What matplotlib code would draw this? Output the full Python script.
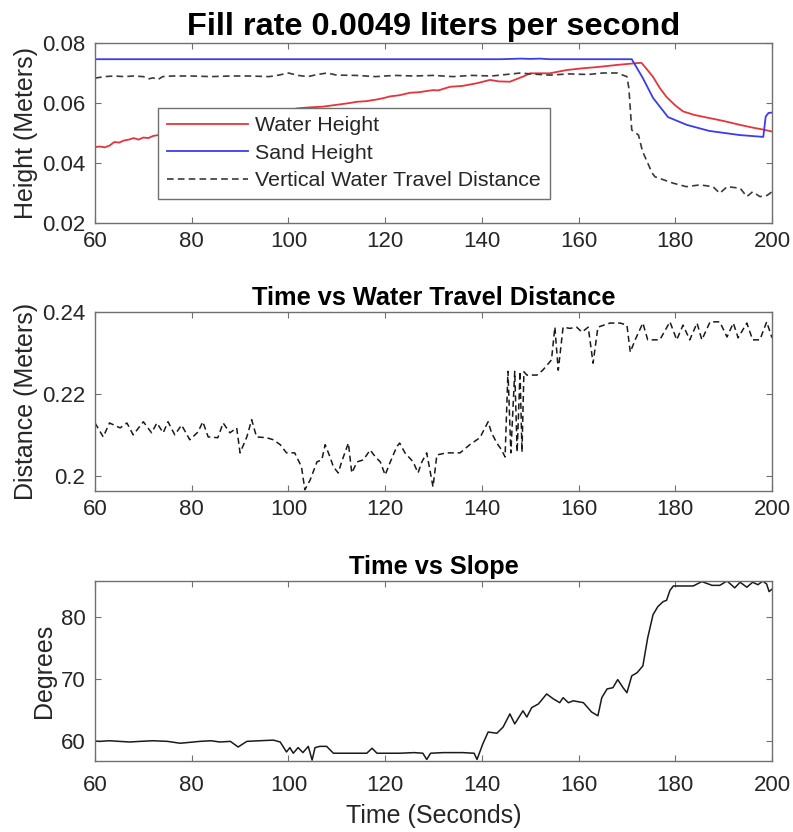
import numpy as np
import matplotlib
matplotlib.use("Agg")
import matplotlib.pyplot as plt
from matplotlib.ticker import FuncFormatter

plt.rcParams['font.family'] = ['Liberation Sans', 'DejaVu Sans']

# ---- top panel: heights (m) ----
t_water = [60, 61, 62, 63, 64, 65, 66, 67, 68, 69, 70, 71, 72, 73, 76, 80, 85, 90, 95, 100,
           101.8, 104, 107.2, 110, 112.7, 114.1, 116, 118, 119.6, 121, 123, 125.1, 127, 129.9,
           131, 133.4, 136, 139, 141.7, 143.5, 145.8, 148.5, 150, 154, 157.6, 161, 164, 168,
           170, 172, 173, 174, 175.4, 176.8, 178.2, 180, 181.6, 184, 187, 190, 193.4, 196, 198, 200]
water_height = [0.0453, 0.0455, 0.0452, 0.0458, 0.0470, 0.0468, 0.0475, 0.0478, 0.0483, 0.0478,
                0.0485, 0.0483, 0.0490, 0.0493, 0.0500, 0.0515, 0.0530, 0.0545, 0.0560, 0.0575,
                0.0582, 0.0585, 0.0588, 0.0594, 0.0600, 0.0604, 0.0606, 0.0611, 0.0616, 0.0622,
                0.0626, 0.0634, 0.0636, 0.0643, 0.0642, 0.0654, 0.0657, 0.0666, 0.0677, 0.0672,
                0.0671, 0.0688, 0.0699, 0.0699, 0.0710, 0.0716, 0.0720, 0.0727, 0.0730, 0.0733,
                0.0734, 0.0715, 0.0687, 0.0650, 0.0620, 0.0592, 0.0572, 0.0560, 0.0550, 0.0540,
                0.0527, 0.0518, 0.0512, 0.0505]

t_sand = [60, 144, 146, 148, 150, 152, 154, 171, 173.3, 175.4, 178.5, 182.4, 187, 193.4,
          198.2, 198.7, 199.3, 200]
sand_height = [0.0746, 0.0746, 0.0747, 0.0748, 0.0747, 0.0748, 0.0746, 0.0746, 0.0683, 0.0617,
               0.0553, 0.0527, 0.0507, 0.0493, 0.0487, 0.0555, 0.0567, 0.0568]

t_vert = [60, 62, 64, 66, 68, 70, 71, 72, 73, 74, 76, 80, 84, 88, 92, 96, 98, 100, 102, 104,
          106, 108, 110, 114, 118, 122, 126, 130, 134, 138, 142, 145, 148, 150, 154, 158, 162,
          165, 168, 170, 170.4, 171, 172.4, 173.2, 175.2, 175.8, 179.5, 182.3, 185.1, 187.8,
          189.2, 190.7, 193.4, 194.8, 196, 197.5, 199, 200]
vert_travel = [0.0683, 0.0688, 0.0690, 0.0688, 0.0690, 0.0688, 0.0680, 0.0684, 0.0678, 0.0688,
               0.0690, 0.0690, 0.0688, 0.0690, 0.0690, 0.0688, 0.0693, 0.0700, 0.0692, 0.0688,
               0.0695, 0.0700, 0.0693, 0.0692, 0.0688, 0.0692, 0.0690, 0.0692, 0.0688, 0.0692,
               0.0690, 0.0695, 0.0700, 0.0697, 0.0693, 0.0697, 0.0695, 0.0700, 0.0700, 0.0688,
               0.0650, 0.0510, 0.0493, 0.0440, 0.0367, 0.0354, 0.0333, 0.0321, 0.0327, 0.0321,
               0.0299, 0.0321, 0.0316, 0.0288, 0.0304, 0.0288, 0.0292, 0.0304]

# ---- middle panel: water travel distance (m) ----
t_dist = [60, 61.7, 63, 65.2, 66.6, 67.9, 70, 71.7, 72.8, 74.1, 75.1, 76.5, 77.9, 79.6, 81.3,
          82.3, 83.4, 85.4, 86.5, 87.9, 89.3, 90, 91.4, 92.4, 93.4, 95.5, 96.9, 98.3, 99.6,
          101.3, 102.7, 103.4, 104.5, 105.9, 106.9, 107.6, 108.6, 109.3, 110.3, 111, 112.4,
          113.1, 114.2, 115.5, 116.9, 118, 119, 120, 121, 122.4, 123, 124.1, 125.8, 126.8,
          127.6, 128.6, 129.9, 130.7, 132.7, 135.5, 137.5, 139.6, 141.3, 142, 143.1, 144.1,
          144.8, 145.4, 146.0, 146.8, 147.3, 147.9, 148.3, 148.7, 149.3, 151.4, 152.6, 154.4,
          155.1, 155.8, 156.8, 158.2, 159.6, 160.7, 162, 163, 164, 166.5, 168.6, 170, 170.7,
          171.7, 173.3, 174.3, 176.8, 178.9, 180.3, 181.6, 183, 184.5, 185.5, 187.2, 189.2,
          190.7, 192, 193, 194.8, 196, 197.5, 198.9, 200]
water_dist = [0.2129, 0.2095, 0.2129, 0.2117, 0.2129, 0.2100, 0.2132, 0.2105, 0.2129, 0.2105,
              0.2132, 0.2100, 0.2124, 0.2088, 0.2107, 0.2132, 0.2095, 0.2093, 0.2129, 0.2105,
              0.2117, 0.2056, 0.2095, 0.2137, 0.2095, 0.2093, 0.2088, 0.2076, 0.2056, 0.2056,
              0.2022, 0.1966, 0.1990, 0.2034, 0.2039, 0.2076, 0.2046, 0.2022, 0.2007, 0.2034,
              0.2080, 0.2007, 0.2034, 0.2039, 0.2063, 0.2046, 0.2034, 0.2002, 0.2032, 0.2071,
              0.2080, 0.2056, 0.2034, 0.2007, 0.2034, 0.2056, 0.1973, 0.2051, 0.2056, 0.2056,
              0.2076, 0.2093, 0.2132, 0.2105, 0.2080, 0.2063, 0.2046, 0.2255, 0.2056, 0.2255,
              0.2058, 0.2255, 0.2058, 0.2254, 0.2246, 0.2246, 0.2258, 0.2283, 0.2363, 0.2258,
              0.2363, 0.2360, 0.2363, 0.2351, 0.2363, 0.2275, 0.2363, 0.2373, 0.2373, 0.2368,
              0.2302, 0.2332, 0.2373, 0.2332, 0.2332, 0.2376, 0.2332, 0.2368, 0.2332, 0.2373,
              0.2332, 0.2376, 0.2376, 0.2339, 0.2373, 0.2337, 0.2373, 0.2332, 0.2332, 0.2376,
              0.2337]

# ---- bottom panel: slope (degrees) ----
t_slope = [60, 61, 63, 65, 67.2, 69.3, 72, 75, 77.6, 79, 81.7, 84, 85.8, 88, 89.6, 91.4, 94,
           96.9, 98.3, 99.6, 100.3, 101, 102, 103, 104.1, 104.9, 105.5, 106.5, 107.9, 109.3,
           112, 116.2, 117.3, 118.3, 123, 126, 127.8, 128.6, 129.4, 132, 136, 138.4, 139,
           140.2, 141.3, 143.1, 144.4, 145.8, 146.8, 148.5, 149.3, 150.3, 151.7, 153.4, 154.8,
           156.1, 156.8, 157.9, 158.9, 161, 162.7, 164, 164.8, 165.9, 167.1, 168.1, 169.2,
           170, 171, 172.1, 173.3, 174.3, 175.4, 176.4, 177.5, 178.2, 178.9, 179.6, 183.7,
           185.5, 187.6, 189.2, 190.7, 192.3, 193.4, 194.8, 196, 197.1, 198.1, 198.9, 199.4, 200]
slope = [60.05, 60.0, 60.1, 60.0, 59.9, 60.0, 60.1, 60.0, 59.7, 59.8, 60.0, 60.1, 59.9, 60.0,
         59.1, 60.0, 60.1, 60.2, 59.9, 58.3, 59.0, 58.1, 59.0, 58.2, 59.2, 57.0, 59.0, 59.2,
         59.2, 58.1, 58.1, 58.1, 58.9, 58.1, 58.1, 58.2, 58.1, 57.1, 58.1, 58.2, 58.2, 58.1,
         57.1, 59.6, 61.5, 61.3, 62.3, 64.4, 62.8, 64.9, 63.9, 65.4, 66.0, 67.6, 66.8, 66.2,
         67.0, 66.2, 66.5, 66.2, 64.7, 64.1, 67.0, 68.4, 68.6, 69.9, 68.6, 67.8, 70.5, 71.0,
         72.1, 76.6, 80.3, 81.6, 82.4, 82.6, 84.2, 84.9, 84.9, 85.6, 85.0, 85.0, 85.7, 84.6,
         85.5, 84.7, 85.5, 85.1, 85.7, 85.2, 84.0, 84.4]

x_ticks = [60, 80, 100, 120, 140, 160, 180, 200]

spine_col = '#707070'
text_col = '#262626'


def style_axes(ax, xpad=6):
    """MATLAB-like box with inward ticks on all four sides."""
    for sp in ax.spines.values():
        sp.set_color(spine_col)
        sp.set_linewidth(1.0)
    ax.tick_params(direction='in', top=True, right=True, length=4.5, width=0.8,
                   color=spine_col, labelsize=16, labelcolor=text_col, pad=7)
    ax.tick_params(axis='x', pad=xpad)
    ax.set_xlim(60, 200)
    ax.set_xticks(x_ticks)
    ax.yaxis.set_major_formatter(FuncFormatter(lambda v, p: '%g' % round(v, 4)))


fig = plt.figure(figsize=(7.93, 8.32), dpi=100)

# top panel
ax1 = fig.add_axes([0.1198, 0.732, 0.8537, 0.2163])
ax1.plot(t_water, water_height, color='#e8333a', lw=1.3, label='Water Height')
ax1.plot(t_sand, sand_height, color='#3b3bf0', lw=1.3, label='Sand Height')
ax1.plot(t_vert, vert_travel, color='#3a3a3a', lw=1.2, linestyle=(0, (4, 2.5)),
         label='Vertical Water Travel Distance')
style_axes(ax1)
ax1.set_ylim(0.02, 0.08)
ax1.set_yticks([0.02, 0.04, 0.06, 0.08])
ax1.set_ylabel('Height (Meters)', fontsize=18, color=text_col, labelpad=3)
ax1.set_title('Fill rate 0.0049 liters per second', fontsize=23.4, fontweight='bold', pad=6)
leg = ax1.legend(loc='upper left', bbox_to_anchor=(0.093, 0.64), borderaxespad=0,
                 fontsize=15.4, fancybox=False, framealpha=1, edgecolor=spine_col,
                 handlelength=3.8, handletextpad=0.35, labelspacing=0.4, borderpad=0.4)
leg.get_frame().set_linewidth(1.0)
for txt in leg.get_texts():
    txt.set_color(text_col)

# middle panel
ax2 = fig.add_axes([0.1198, 0.4099, 0.8537, 0.2151])
ax2.plot(t_dist, water_dist, color='#1a1a1a', lw=1.1, linestyle=(0, (4, 2.5)))
style_axes(ax2)
ax2.set_ylim(0.1963, 0.24)
ax2.set_yticks([0.2, 0.22, 0.24])
ax2.set_ylabel('Distance (Meters)', fontsize=18, color=text_col, labelpad=3)
ax2.set_title('Time vs Water Travel Distance', fontsize=18.3, fontweight='bold', pad=5)

# bottom panel
ax3 = fig.add_axes([0.1198, 0.0853, 0.8537, 0.2164])
ax3.plot(t_slope, slope, color='#1a1a1a', lw=1.1)
style_axes(ax3, xpad=10)
ax3.set_ylim(56.85, 85.7)
ax3.set_yticks([60, 70, 80])
ax3.set_ylabel('Degrees', fontsize=18, color=text_col, labelpad=3)
ax3.set_xlabel('Time (Seconds)', fontsize=18, color=text_col, labelpad=6)
ax3.set_title('Time vs Slope', fontsize=18.3, fontweight='bold', pad=5)

fig.savefig('out.png', dpi=100)
